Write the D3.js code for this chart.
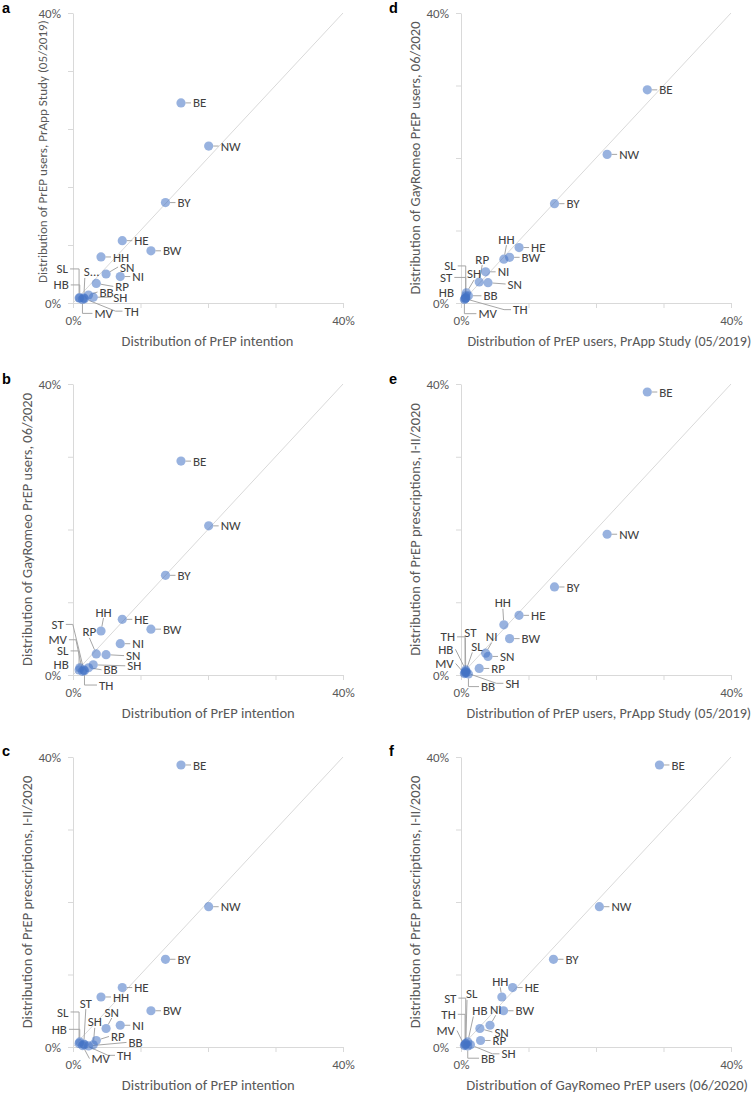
<!DOCTYPE html>
<html><head><meta charset="utf-8">
<script src="https://cdn.jsdelivr.net/npm/d3@7"></script>
<style>body{margin:0;background:#fff;} svg{display:block;}</style>
</head><body>
<script>
// ---------------- DATA (share of PrEP-related counts per German federal state, %) ----------------
const states        = ["BE","NW","BY","HE","BW","HH","SN","NI","RP","SH","BB","TH","MV","SL","HB","ST"];
const intention     = [16.0, 20.1, 13.7, 7.3, 11.55, 4.15, 4.9, 7.0, 3.45, 3.0, 2.3, 1.7, 1.4, 0.9, 1.0, 1.6];
const prappUsers    = [27.6, 21.65, 13.85, 8.6, 7.2, 6.35, 4.0, 3.65, 2.7, 0.8, 1.1, 0.6, 0.5, 0.7, 0.7, 0.7];
const gayromeoUsers = [29.4, 20.5, 13.7, 7.65, 6.3, 6.05, 2.8, 4.3, 2.9, 1.4, 1.0, 0.6, 0.5, 0.7, 1.0, 0.7];
const prescriptions = [38.9, 19.35, 12.1, 8.2, 5.0, 6.9, 2.55, 3.0, 0.9, 0.3, 0.15, 0.3, 0.2, 0.5, 0.7, 0.4];
const axisMax = 40;
const tickLabelValues = [0, 40];

// ---------------- LABEL LAYOUT (pixel offsets of each data label from its point) ----------------
// [dx, dy, anchor, leader kind]; default: label right of point with short leader
const layoutA = {SN:[14,-7,"start","s"], RP:[19,3,"start","s"], BB:[11,-3,"start","s"], SH:[20,0,"start","s"],
  TH:[40,12.5,"start","k"], MV:[12,14,"start","v"], SL:[-11,-29,"end","v"], ST:[0,-26,"start","bl"], HB:[-11,-13,"end","v"]};
const layoutB = {HH:[2.5,-19,"middle","s"], RP:[0,-22,"end","b"], SN:[20,1,"start","s"], SH:[34,1,"start","s"],
  BB:[15,2,"start","s"], TH:[14.5,14.4,"start","v"], HB:[-11,-3.7,"end","v"], SL:[-10.5,-19,"end","v"],
  MV:[-15.5,-31.6,"end","k"], ST:[-20,-45.5,"end","k"]};
const layoutC = {SN:[-1.5,-16.5,"start","b"], RP:[14.7,-4,"start","s"], BB:[40,-3.5,"start","s"], SH:[1.5,-23,"middle","s"],
  ST:[2,-41,"middle","s"], SL:[-10.5,-31.4,"end","v"], HB:[-12.8,-12.6,"end","v"], MV:[9,13,"start","s"], TH:[32.5,10.5,"start","k"]};
const layoutD = {HH:[2.6,-20,"middle","s"], RP:[3,-23,"middle","s"], SN:[19.6,1.3,"start","s"], SH:[7.7,-19,"middle","s"],
  BB:[15,0,"start","s"], TH:[48,11,"start","k"], MV:[14,14.3,"start","v"], HB:[-11.7,-3.8,"end","v"],
  ST:[-13.4,-20.5,"end","v"], SL:[-10,-32,"end","v"]};
const layoutE = {HH:[-1,-22,"middle","s"], NI:[6,-16.5,"middle","s"], SH:[39,10.5,"start","k"], BB:[12.6,12.7,"start","v"],
  TH:[-10,-36,"end","v"], ST:[-1.4,-40,"start","bl"], SL:[5.6,-25,"start","bl"], HB:[-12.3,-20.6,"end","s"], MV:[-10.7,-10,"end","s"]};
const layoutF = {HH:[-1.6,-15.7,"middle","s"], NI:[5.7,-16,"middle","s"], SN:[14.5,3.5,"start","s"], HB:[4.6,-31.4,"start","bl"],
  SL:[0.3,-49.5,"start","bl"], ST:[-9.3,-46,"end","v"], TH:[-9.3,-30.5,"end","v"], MV:[-9.4,-15,"end","s"],
  SH:[31,9,"start","k"], BB:[13.3,12.3,"start","v"]};

const panels = [
 {letter:"a", xv:intention, yv:prappUsers, xTitle:"Distribution of PrEP intention",
  yTitle:"Distribution of PrEP users, PrApp Study (05/2019)", yTicks:5, col:0, row:0, layout:layoutA, rename:{ST:"S..."},
  xtLen:172, ytLen:263, xtCx:207.5, ytOff:30.5, ytCy:151.7},
 {letter:"b", xv:intention, yv:gayromeoUsers, xTitle:"Distribution of PrEP intention",
  yTitle:"Distribution of GayRomeo PrEP users, 06/2020", yTicks:4, col:0, row:1, layout:layoutB, rename:{},
  xtLen:173, ytLen:273, xtCx:208.3, ytOff:46, ytCy:null},
 {letter:"c", xv:intention, yv:prescriptions, xTitle:"Distribution of PrEP intention",
  yTitle:"Distribution of PrEP prescriptions, I-II/2020", yTicks:4, col:0, row:2, layout:layoutC, rename:{},
  xtLen:173, ytLen:253, xtCx:208.3, ytOff:46, ytCy:null},
 {letter:"d", xv:prappUsers, yv:gayromeoUsers, xTitle:"Distribution of PrEP users, PrApp Study (05/2019)",
  yTitle:"Distribution of GayRomeo PrEP users, 06/2020", yTicks:4, col:1, row:0, layout:layoutD, rename:{},
  xtLen:284, ytLen:273, xtCx:609.3, ytOff:46, ytCy:null},
 {letter:"e", xv:prappUsers, yv:prescriptions, xTitle:"Distribution of PrEP users, PrApp Study (05/2019)",
  yTitle:"Distribution of PrEP prescriptions, I-II/2020", yTicks:4, col:1, row:1, layout:layoutE, rename:{},
  xtLen:285, ytLen:253, xtCx:608.8, ytOff:46, ytCy:null},
 {letter:"f", xv:gayromeoUsers, yv:prescriptions, xTitle:"Distribution of GayRomeo PrEP users (06/2020)",
  yTitle:"Distribution of PrEP prescriptions, I-II/2020", yTicks:4, col:1, row:2, layout:layoutF, rename:{},
  xtLen:282, ytLen:253, xtCx:607.2, ytOff:46, ytCy:null}
];

// ---------------- GEOMETRY / STYLE ----------------
const W = 755, H = 1093;
const cols = [{x0:73, x1:343, lx:2}, {x0:461, x1:731, lx:389}];
const rows = [{y0:13, y1:303, ly:13}, {y0:384, y1:675, ly:384}, {y0:757, y1:1047, ly:756}];
const FONT = "Carlito, Calibri, Lato, 'Open Sans', sans-serif";
const R = 4.6;

const svg = d3.select("body").append("svg").attr("width", W).attr("height", H)
  .style("font-family", FONT);

function fitText(sel, target, base) {
  sel.attr("font-size", base);
  const w = sel.node().getComputedTextLength();
  sel.attr("font-size", base * target / w);
}

panels.forEach(pn => {
  const c = cols[pn.col], r = rows[pn.row];
  const xs = d3.scaleLinear().domain([0, axisMax]).range([c.x0, c.x1]);
  const ys = d3.scaleLinear().domain([0, axisMax]).range([r.y1, r.y0]);
  const g = svg.append("g");

  // panel letter
  g.append("text").attr("x", c.lx).attr("y", r.ly).text(pn.letter)
    .attr("font-family", "'Liberation Sans', Arial, sans-serif").attr("font-weight", "bold")
    .attr("font-size", 14.5).attr("fill", "#000");

  // identity diagonal
  g.append("line").attr("x1", xs(0)).attr("y1", ys(0)).attr("x2", xs(axisMax)).attr("y2", ys(axisMax))
    .attr("stroke", "#d9d9d9").attr("stroke-width", 1);

  const fmt = d => tickLabelValues.includes(d) ? d + "%" : "";
  const xAxis = d3.axisBottom(xs).tickValues(d3.range(0, axisMax + 0.001, 10))
    .tickSize(5).tickSizeOuter(0).tickPadding(7.5).tickFormat(fmt);
  const yAxis = d3.axisLeft(ys).tickValues(d3.range(0, axisMax + 0.001, axisMax / pn.yTicks))
    .tickSize(5).tickSizeOuter(0).tickPadding(7).tickFormat(fmt);
  const gx = g.append("g").attr("transform", `translate(0,${r.y1})`).call(xAxis);
  const gy = g.append("g").attr("transform", `translate(${c.x0},0)`).call(yAxis);
  [gx, gy].forEach(a => {
    a.select(".domain").attr("stroke", "#d9d9d9");
    a.selectAll(".tick line").attr("stroke", "#d9d9d9");
    a.selectAll("text").attr("fill", "#595959").attr("font-size", 13).attr("font-family", FONT);
  });

  // axis titles
  const xt = g.append("text").attr("x", pn.xtCx).attr("y", r.y1 + 38).attr("dy", "0.35em")
    .attr("text-anchor", "middle").attr("fill", "#595959").text(pn.xTitle);
  fitText(xt, pn.xtLen, 14);
  const cy = pn.ytCy != null ? pn.ytCy : (r.y0 + r.y1) / 2;
  const yt = g.append("text").attr("transform", `translate(${c.x0 - pn.ytOff},${cy}) rotate(-90)`)
    .attr("dy", "0.35em").attr("text-anchor", "middle").attr("fill", "#595959").text(pn.yTitle);
  fitText(yt, pn.ytLen, 14);

  // data
  const pts = states.map((s, i) => ({s, name: pn.rename[s] || s, px: xs(pn.xv[i]), py: ys(pn.yv[i]),
    lay: pn.layout[s] || [12, 0, "start", "s"]}));

  const leaders = g.append("g");
  const dots = g.append("g");
  const labels = g.append("g");

  pts.forEach(p => {
    const [dx, dy, anchor, kind] = p.lay;
    const lx = p.px + dx, ly = p.py + dy;
    const t = labels.append("text").attr("x", lx).attr("y", ly).attr("dy", "0.35em")
      .attr("text-anchor", anchor).attr("font-size", 13).attr("fill", "#404040").text(p.name);
    const w = t.node().getComputedTextLength();
    const left = anchor === "start" ? lx : anchor === "end" ? lx - w : lx - w / 2;
    let A;
    if (kind === "b") A = [left + w / 2, ly + 6];
    else if (kind === "bl") A = [left + 1, ly + 6];
    else if (anchor === "start") A = [left - 2, ly];
    else if (anchor === "end") A = [left + w + 2, ly];
    else A = dy < 0 ? [lx, ly + 6] : [lx, ly - 7];
    let path = [A];
    if (kind === "v") path.push([p.px, ly]);
    else if (kind === "k") path.push([A[0] + (p.px > A[0] ? 7 : -7), ly]);
    path.push([p.px, p.py]);
    // start leader at circle edge
    const n = path.length;
    const [qx, qy] = path[n - 2];
    const L = Math.hypot(qx - p.px, qy - p.py);
    if (L > R) path[n - 1] = [p.px + (qx - p.px) * R / L, p.py + (qy - p.py) * R / L];
    else path = [];
    if (path.length) leaders.append("path").attr("d", d3.line()(path))
      .attr("fill", "none").attr("stroke", "#a6a6a6").attr("stroke-width", 1);
  });

  dots.selectAll("circle").data(pts).join("circle")
    .attr("cx", d => d.px).attr("cy", d => d.py).attr("r", R)
    .attr("fill", "#4472c4").attr("fill-opacity", 0.55);
});
</script>
</body></html>
